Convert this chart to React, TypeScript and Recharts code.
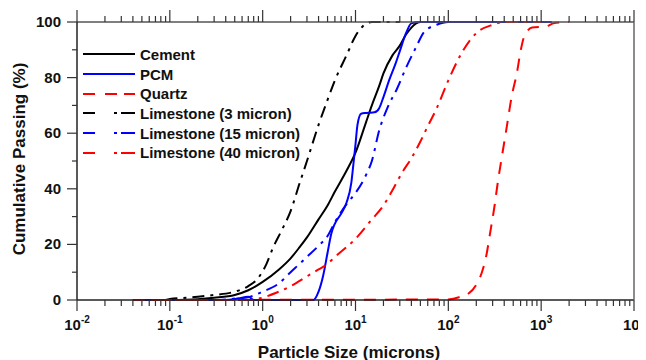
import React from "react";
import { LineChart, Line, XAxis, YAxis, Legend } from "recharts";

// particle size (microns) vs cumulative passing (%)
const cementSize = [0.1, 0.2, 0.3, 0.5, 0.7, 1, 1.5, 2, 2.5, 3, 4, 5, 6, 8, 10, 13, 15, 18, 20, 25, 30, 35, 40, 45, 50, 100, 200];
const cementPass = [0, 0.3, 0.8, 1.8, 3.5, 6.5, 11, 15, 19, 22.5, 29, 34, 39, 46.5, 53, 64, 70, 77, 81.5, 88, 91.5, 95.5, 98, 99.5, 100, 100, 100];

const pcmSize = [0.04, 0.4, 0.55, 0.7, 0.8, 3.5, 4, 4.5, 5, 5.5, 6, 7, 8, 9, 9.5, 10, 10.5, 11.5, 13, 16, 18, 20, 23, 27, 30, 35, 40, 50, 100, 1300];
const pcmPass = [0, 0, 0.6, 1.2, 0, 0, 3, 9, 17, 24, 27.5, 31, 35, 42, 49, 56, 63, 67, 67.3, 67.5, 69, 73, 79, 85, 89.5, 96, 99.5, 100, 100, 100];

const quartzSize = [0.04, 100, 130, 160, 200, 230, 260, 280, 315, 340, 375, 420, 480, 550, 600, 660, 800, 1150, 1350, 2000];
const quartzPass = [0, 0.2, 1, 2, 5.5, 10, 17, 23.5, 34, 42, 51, 61, 73, 82, 89.5, 95, 98, 98.5, 99.5, 100];

const lime3Size = [0.09, 0.1, 0.15, 0.2, 0.3, 0.5, 0.7, 0.9, 1.1, 1.3, 1.6, 2, 2.5, 3, 4, 5, 6, 8, 10, 12, 15, 20, 30];
const lime3Pass = [0, 0.4, 0.8, 1.2, 1.8, 3, 5, 8, 13, 19, 25, 32, 42, 50, 63, 72, 79, 88, 95, 98.5, 100, 100, 100];

const lime15Size = [0.04, 0.3, 0.5, 0.7, 1, 1.5, 2, 2.5, 3, 4, 5, 6, 8, 10, 13, 15, 18, 22, 28, 35, 45, 55, 75, 100, 1000];
const lime15Pass = [0, 0, 0.5, 1, 3, 6, 10, 13, 15.5, 19.5, 23, 28, 34.5, 38.5, 45, 50, 61, 69, 76, 83.5, 91, 96.5, 99, 100, 100];

const lime40Size = [0.04, 0.7, 0.9, 1.4, 2, 3, 4, 5, 6, 8, 10, 15, 20, 25, 32, 40, 50, 60, 75, 100, 140, 200, 300, 400, 1000];
const lime40Pass = [0, 0, 0.5, 2.6, 5, 8.5, 11, 13, 15.5, 19, 22, 29, 34, 39.5, 46, 51, 57, 62.5, 69, 79, 89, 96, 99, 100, 100];

const decades = [-2, -1, 0, 1, 2, 3];
const yTicks = [0, 10, 20, 30, 40, 50, 60, 70, 80, 90, 100];

const xTicks: number[] = [];
decades.forEach((d) => {
  for (let m = 1; m <= 9; m++) xTicks.push(m * Math.pow(10, d));
});
xTicks.push(10000);

const FONT = "Arial, 'Liberation Sans', Helvetica, sans-serif";
const AXIS = "#333";

const toSeries = (sizes: number[], pass: number[]) => sizes.map((x, i) => ({ x, y: pass[i] }));

const DASH = "12 9";
const DASH_DOT = "12 6 3 6";

const series = [
  { name: "Cement", data: toSeries(cementSize, cementPass), color: "#000000", dash: undefined, legendDash: undefined },
  { name: "PCM", data: toSeries(pcmSize, pcmPass), color: "#0000ff", dash: undefined, legendDash: undefined },
  { name: "Quartz", data: toSeries(quartzSize, quartzPass), color: "#ff0000", dash: DASH, legendDash: "12 10 12 7 12" },
  { name: "Limestone (3 micron)", data: toSeries(lime3Size, lime3Pass), color: "#000000", dash: DASH_DOT, legendDash: "12 19 3 4 14" },
  { name: "Limestone (15 micron)", data: toSeries(lime15Size, lime15Pass), color: "#0000ff", dash: DASH_DOT, legendDash: "12 19 3 4 14" },
  { name: "Limestone (40 micron)", data: toSeries(lime40Size, lime40Pass), color: "#ff0000", dash: DASH_DOT, legendDash: "12 19 3 4 14" },
];

const isDecade = (v: number) => Math.abs(Math.log10(v) - Math.round(Math.log10(v))) < 1e-9;

const BottomTick = (props: any) => {
  const { x, y, payload } = props;
  const v = payload.value;
  const major = isDecade(v);
  return (
    <g>
      <line x1={x} x2={x} y1={y} y2={y + (major ? 11 : 6)} stroke={AXIS} strokeWidth={1.2} />
      {major && (
        <text x={x} y={y + 30} textAnchor="middle" fontFamily={FONT} fontSize={15} fontWeight="bold" fill="#111">
          <tspan>10</tspan>
          <tspan dy={-7} fontSize={10}>{Math.round(Math.log10(v))}</tspan>
        </text>
      )}
    </g>
  );
};

const TopTick = (props: any) => {
  const { x, y, payload } = props;
  const major = isDecade(payload.value);
  return <line x1={x} x2={x} y1={y} y2={y - (major ? 12 : 6)} stroke={AXIS} strokeWidth={1.2} />;
};

const LeftTick = (props: any) => {
  const { x, y, payload } = props;
  const v = payload.value;
  const major = v % 20 === 0;
  return (
    <g>
      <line x1={x - (major ? 10 : 5)} x2={x} y1={y} y2={y} stroke={AXIS} strokeWidth={1.2} />
      {major && (
        <text x={x - 16} y={y + 5} textAnchor="end" fontFamily={FONT} fontSize={15} fontWeight="bold" fill="#111">
          {v}
        </text>
      )}
    </g>
  );
};

const RightTick = (props: any) => {
  const { x, y } = props;
  return <line x1={x} x2={x + 11} y1={y} y2={y} stroke="#666" strokeWidth={1.2} />;
};

const XTitle = (props: any) => {
  const vb = props.viewBox;
  return (
    <text x={vb.x + vb.width / 2 - 6.5} y={vb.y + 57.5} textAnchor="middle" fontFamily={FONT} fontSize={17} fontWeight="bold" fill="#111">
      Particle Size (microns)
    </text>
  );
};

const YTitle = () => (
  <text x={17} y={151} transform="rotate(-90, 17, 151)" textAnchor="middle" fontFamily={FONT} fontSize={17} fontWeight="bold" fill="#111">
    Cumulative Passing (%)
  </text>
);

const LegendBox = () => (
  <div style={{ fontFamily: FONT, fontSize: 15, fontWeight: "bold", color: "#111" }}>
    {series.map((s) => (
      <div key={s.name} style={{ display: "flex", alignItems: "center", height: 19.7 }}>
        <svg width={52} height={6} style={{ display: "block" }}>
          <line x1={0} x2={52} y1={3} y2={3} stroke={s.color} strokeWidth={2} strokeDasharray={s.legendDash} />
        </svg>
        <span style={{ marginLeft: 5, whiteSpace: "nowrap" }}>{s.name}</span>
      </div>
    ))}
  </div>
);

export default function App() {
  return (
    <LineChart width={638} height={352} margin={{ top: 0, right: 0, bottom: 0, left: 0 }}>
      <XAxis
        xAxisId="bottom"
        dataKey="x"
        type="number"
        scale="log"
        domain={[0.01, 10000]}
        allowDataOverflow
        ticks={xTicks}
        interval={0}
        height={60}
        tickSize={0}
        tickMargin={0}
        tickLine={false}
        tick={BottomTick}
        axisLine={{ stroke: "#222", strokeWidth: 1.5 }}
        label={<XTitle />}
      />
      <XAxis
        xAxisId="top"
        orientation="top"
        dataKey="x"
        type="number"
        scale="log"
        domain={[0.01, 10000]}
        allowDataOverflow
        ticks={xTicks}
        interval={0}
        height={14}
        tickSize={0}
        tickMargin={0}
        tickLine={false}
        tick={TopTick}
        axisLine={{ stroke: "#555", strokeWidth: 1.5 }}
      />
      <YAxis
        yAxisId="left"
        type="number"
        domain={[0, 100]}
        ticks={yTicks}
        interval={0}
        width={69}
        tickSize={0}
        tickMargin={0}
        tickLine={false}
        tick={LeftTick}
        axisLine={{ stroke: "#222", strokeWidth: 1.5 }}
        label={<YTitle />}
      />
      <YAxis
        yAxisId="right"
        orientation="right"
        type="number"
        domain={[0, 100]}
        ticks={yTicks}
        interval={0}
        width={12}
        tickSize={0}
        tickMargin={0}
        tickLine={false}
        tick={RightTick}
        axisLine={{ stroke: "#666", strokeWidth: 1.5 }}
      />
      <Legend
        layout="vertical"
        align="center"
        verticalAlign="middle"
        content={<LegendBox />}
        wrapperStyle={{ left: 75, top: 36.5, width: 260, height: "auto" }}
      />
      {series.map((s) => (
        <Line
          key={s.name}
          name={s.name}
          xAxisId="bottom"
          yAxisId="left"
          data={s.data}
          dataKey="y"
          type="monotone"
          stroke={s.color}
          strokeWidth={2}
          strokeDasharray={s.dash}
          dot={false}
          activeDot={false}
          isAnimationActive={false}
        />
      ))}
    </LineChart>
  );
}
